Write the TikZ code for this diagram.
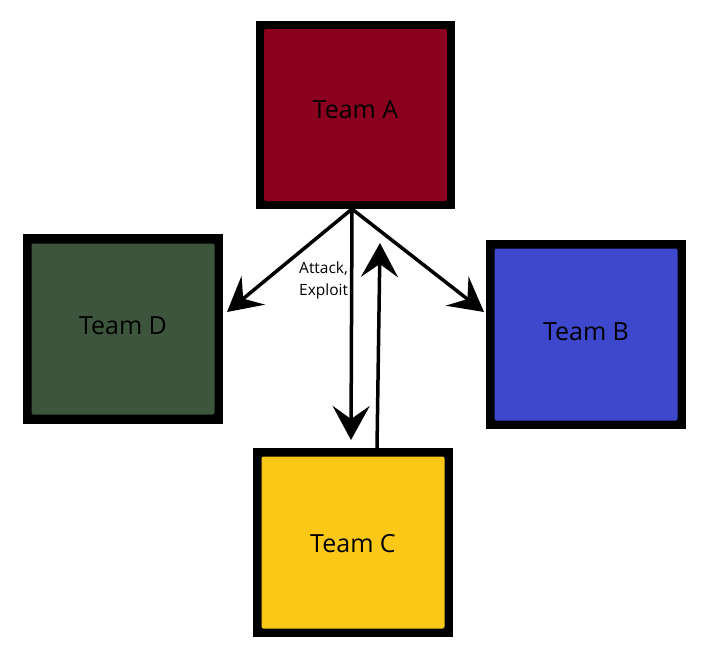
\documentclass[tikz,border=0pt]{standalone}
\usepackage{fontspec}
\setmainfont{Open Sans}
\usetikzlibrary{arrows.meta}
\definecolor{teamA}{RGB}{139,0,30}
\definecolor{teamB}{RGB}{61,72,204}
\definecolor{teamC}{RGB}{252,200,24}
\definecolor{teamD}{RGB}{61,85,61}
\begin{document}
\begin{tikzpicture}[x=1pt,y=-1pt,
  outerbox/.style={fill=black, inner sep=0pt, minimum width=200pt, minimum height=189pt},
  innerbox/.style={fill=#1, rounded corners=2pt, inner sep=0pt, minimum width=183pt, minimum height=172pt},
  teamtext/.style={inner sep=0pt, font=\fontsize{25}{30}\selectfont, text=black},
  arr/.style={line width=3.5pt, -{Stealth[length=34pt, width=37pt, inset=13pt]}}]
\useasboundingbox (0,0) rectangle (707,662);
% boxes
\node[outerbox, minimum width=199pt, minimum height=188pt] (A) at (355.5,115) {};
\node[innerbox=teamA] (Ai) at (A.center) {};
\node[teamtext] (At) at ([yshift=5.5pt]A.center) {Team A};
\node[outerbox, minimum height=190pt] (D) at (123,329) {};
\node[innerbox=teamD, minimum height=171pt] (Di) at (D.center) {};
\node[teamtext] (Dt) at ([yshift=3pt]D.center) {Team D};
\node[outerbox] (B) at (586,334.5) {};
\node[innerbox=teamB] (Bi) at (B.center) {};
\node[teamtext] (Bt) at ([yshift=3pt]B.center) {Team B};
\node[outerbox] (C) at (353,542.5) {};
\node[innerbox=teamC] (Ci) at (C.center) {};
\node[teamtext] (Ct) at ([yshift=-1.5pt]C.center) {Team C};
% connector end points
\coordinate (src) at (352,209);
\coordinate (tD) at (227,312);
\coordinate (tB) at (484,312);
\coordinate (tC) at (351,440);
\coordinate (cUp) at (377,448);
\coordinate (tA) at (380,243);
\draw[arr] (src) -- (tD);
\draw[arr] (src) -- (tB);
\draw[arr] (src) -- (tC);
\draw[arr] (cUp) -- (tA);
\node[anchor=north west, inner sep=0pt, align=left, font=\fontsize{15.5}{22}\selectfont] (lbl) at (299,262) {Attack,\\Exploit};
\end{tikzpicture}
\end{document}
